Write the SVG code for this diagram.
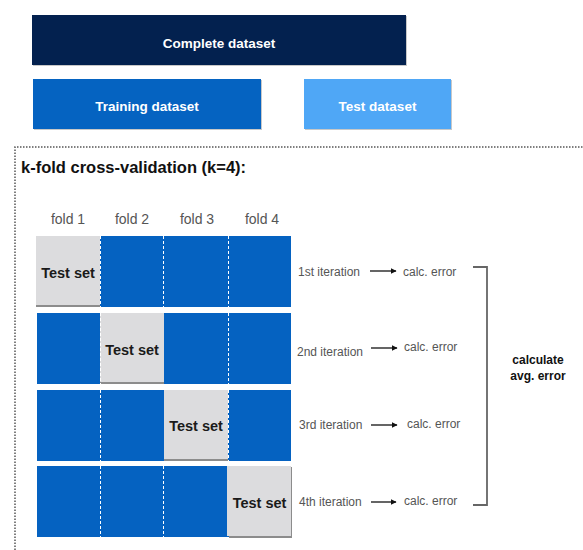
<svg xmlns="http://www.w3.org/2000/svg" width="583" height="550" viewBox="0 0 583 550">
<style>
  .bold { font-family: "Liberation Sans", Arial, sans-serif; font-weight: bold; }
  .hdr { fill: #ffffff; font-size: 13.5px; text-anchor: middle; }
  .fold { font-family: "Liberation Sans", Arial, sans-serif; font-size: 14px; fill: #555555; text-anchor: middle; }
  .iter { font-family: "Liberation Sans", Arial, sans-serif; font-size: 12px; fill: #555555; }
  .blue { fill: #0562c1; }
  .gray { fill: #dcdcde; }
  .shade { fill: #8c8c8c; }
  .sep { stroke: #ffffff; stroke-width: 1; stroke-dasharray: 3 2; }
  .ts { font-size: 14.5px; fill: #1a1a1a; text-anchor: middle; }
  .arrow { stroke: #111111; stroke-width: 1.3; fill: none; marker-end: url(#ah); }
</style>
<defs>
  <marker id="ah" viewBox="0 0 10 10" refX="9" refY="5" markerWidth="6" markerHeight="6" markerUnits="userSpaceOnUse" orient="auto">
    <path d="M0,0 L10,5 L0,10 z" fill="#111111"/>
  </marker>
</defs>
<rect width="583" height="550" fill="#ffffff"/>

<g id="complete">
  <rect x="33" y="16" width="374" height="50" fill="#c8c8c8"/>
  <rect x="32" y="15" width="374" height="50" fill="#03214f"/>
  <text class="bold hdr" x="219" y="48">Complete dataset</text>
</g>
<g id="training">
  <rect x="34" y="80" width="228" height="50" fill="#c8c8c8"/>
  <rect x="33" y="79" width="228" height="50" fill="#0563c1"/>
  <text class="bold hdr" x="147" y="111">Training dataset</text>
</g>
<g id="testdata">
  <rect x="305" y="80" width="147" height="50" fill="#c8c8c8"/>
  <rect x="304" y="79" width="147" height="50" fill="#4fa7f6"/>
  <text class="bold hdr" x="377.5" y="111">Test dataset</text>
</g>

<g id="cv-frame">
  <path d="M15,550 L15,147 L583,147" fill="none" stroke="#555555" stroke-width="1.5" stroke-dasharray="1.5 1.5"/>
  <text class="bold" x="21" y="173" style="font-size:16.5px;fill:#111111">k-fold cross-validation (k=4):</text>
</g>

<g id="fold-labels">
  <text class="fold" x="68" y="224">fold 1</text>
  <text class="fold" x="132" y="224">fold 2</text>
  <text class="fold" x="197" y="224">fold 3</text>
  <text class="fold" x="262" y="224">fold 4</text>
</g>

<g id="row1">
  <rect class="blue" x="100" y="236" width="191" height="71"/>
  <rect class="gray" x="36" y="236" width="64" height="69"/>
  <rect class="shade" x="36" y="305" width="64" height="2"/>
  <line class="sep" x1="163.5" y1="236" x2="163.5" y2="307"/>
  <line class="sep" x1="228.5" y1="236" x2="228.5" y2="307"/>
  <line class="sep" x1="100.5" y1="236" x2="100.5" y2="307"/>
  <text class="bold ts" x="68" y="278">Test set</text>
</g>
<g id="row2">
  <rect class="blue" x="37" y="313" width="254" height="71"/>
  <rect class="gray" x="100" y="313" width="64" height="69"/>
  <rect class="shade" x="100" y="382" width="64" height="2"/>
  <line class="sep" x1="100.5" y1="313" x2="100.5" y2="384"/>
  <line class="sep" x1="228.5" y1="313" x2="228.5" y2="384"/>
  <text class="bold ts" x="132" y="355">Test set</text>
</g>
<g id="row3">
  <rect class="blue" x="37" y="390" width="254" height="71"/>
  <rect class="gray" x="164" y="390" width="64" height="69"/>
  <rect class="shade" x="164" y="459" width="64" height="2"/>
  <line class="sep" x1="100.5" y1="390" x2="100.5" y2="461"/>
  <line class="sep" x1="228.5" y1="390" x2="228.5" y2="461"/>
  <text class="bold ts" x="196" y="431">Test set</text>
</g>
<g id="row4">
  <rect class="blue" x="37" y="466" width="254" height="71"/>
  <rect class="shade" x="229" y="467" width="63" height="71"/>
  <rect class="gray" x="227" y="466" width="64" height="70"/>
  <line class="sep" x1="100.5" y1="466" x2="100.5" y2="537"/>
  <line class="sep" x1="163.5" y1="466" x2="163.5" y2="537"/>
  <text class="bold ts" x="259.5" y="508">Test set</text>
</g>

<g id="iterations">
  <text class="iter" x="298" y="276">1st iteration</text>
  <text class="iter" x="403" y="276">calc. error</text>
  <text class="iter" x="297" y="356">2nd iteration</text>
  <text class="iter" x="404" y="351">calc. error</text>
  <text class="iter" x="299" y="429">3rd iteration</text>
  <text class="iter" x="407" y="428">calc. error</text>
  <text class="iter" x="299" y="506">4th iteration</text>
  <text class="iter" x="404" y="505">calc. error</text>
</g>

<g id="connectors">
  <line class="arrow" x1="370" y1="271" x2="396" y2="271"/>
  <line class="arrow" x1="371" y1="348" x2="397" y2="348"/>
  <line class="arrow" x1="371" y1="425" x2="397" y2="425"/>
  <line class="arrow" x1="371" y1="502" x2="396" y2="502"/>
  <path d="M473,267 L487,267 L487,505 L473,505" fill="none" stroke="#666666" stroke-width="1.8"/>
</g>

<g id="avg">
  <text class="bold" x="538" y="364" style="font-size:12px;fill:#111111;text-anchor:middle">calculate</text>
  <text class="bold" x="538" y="380" style="font-size:12px;fill:#111111;text-anchor:middle">avg. error</text>
</g>
</svg>
